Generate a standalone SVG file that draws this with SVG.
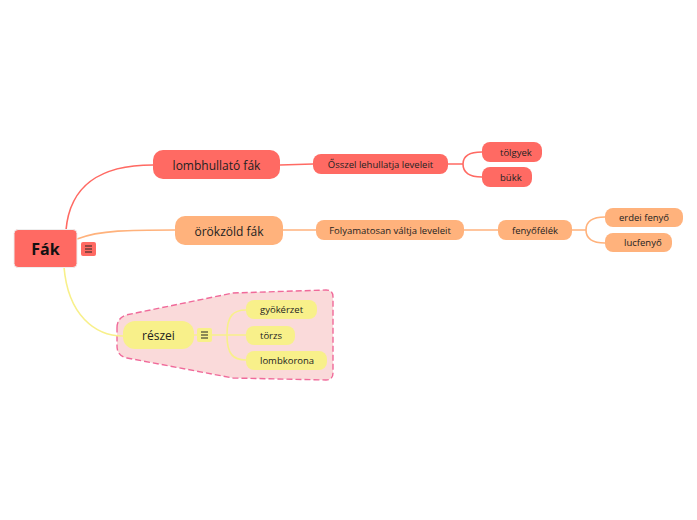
<svg xmlns="http://www.w3.org/2000/svg" width="697" height="520" viewBox="0 0 697 520">
<style>
text{font-family:"Open Sans","Noto Sans","DejaVu Sans",sans-serif;fill:#222;text-anchor:middle;dominant-baseline:central}
.red{fill:#ff6a63}
.org{fill:#ffb27c}
.yel{fill:#f8f08a}
.c{fill:none;stroke-width:1.6}
.cr{stroke:#ff6a63}
.co{stroke:#ffb27c}
.cy{stroke:#f8f08a}
.s12{font-size:12px}
.s9{font-size:9.5px}
</style>
<rect width="697" height="520" fill="#fff"/>
<g id="boundary">
<path d="M117,328 Q117,318 126,315 L233,293 L326,290 Q333,290 333,297 L333,373 Q333,380 326,380 L233,378 L127,358 Q117,356 117,346 Z" fill="#fadada" stroke="#f06a9a" stroke-width="1.4" stroke-dasharray="6,3"/>
</g>
<g id="connectors">
<path class="c cr" d="M66,230 C70,185 100,165 153,165"/>
<path class="c co" d="M77,239 C100,230 130,230 175,230"/>
<path class="c cy" d="M64,267 C68,315 95,336 123,336"/>
<path class="c cr" d="M280,165 L313,164"/>
<path class="c cr" d="M448,164 L463,164 M463,164 C463,156 469,152 482,152 M463,164 C463,172 469,177 482,177"/>
<path class="c co" d="M283,230 L316,230"/>
<path class="c co" d="M464,230 L498,230"/>
<path class="c co" d="M572,230 L586,230 M586,230 C586,221 592,217 605,217 M586,230 C586,239 592,243 605,243"/>
<path class="c cy" d="M194,335 L197,335 M212,335 L227,335 M227,335 C227,316 233,310 246,310 M227,335 L246,335 M227,335 C227,354 233,360 246,360"/>
</g>
<g id="root">
<rect x="14" y="229.5" width="63" height="38" rx="4" class="red" stroke="#eee" stroke-width="1"/>
<text x="45.5" y="249" style="font-size:16px;font-weight:bold;fill:#111">Fák</text>
</g>
<g id="root-menu">
<rect x="81" y="242" width="15" height="14" rx="2" class="red"/>
<path d="M85,246 H92 M85,249 H92 M85,252 H92" stroke="#222" stroke-width="1"/>
</g>
<g id="lombhullato">
<rect x="153" y="150" width="127" height="29" rx="10" class="red"/>
<text x="216.5" y="165" class="s12">lombhullató fák</text>
</g>
<g id="osszel">
<rect x="313" y="154" width="135" height="20" rx="8" class="red"/>
<text x="380.5" y="164" class="s9">Ősszel lehullatja leveleit</text>
</g>
<g id="tolgyek">
<rect x="482" y="142" width="60" height="20" rx="8" class="red"/>
<text x="500" y="152" class="s9" style="text-anchor:start">tölgyek</text>
</g>
<g id="bukk">
<rect x="482" y="167" width="50" height="20" rx="8" class="red"/>
<text x="500" y="177" class="s9" style="text-anchor:start">bükk</text>
</g>
<g id="orokzold">
<rect x="175" y="216" width="108" height="29" rx="10" class="org"/>
<text x="229" y="231" class="s12">örökzöld fák</text>
</g>
<g id="folyamatosan">
<rect x="316" y="220" width="148" height="20" rx="8" class="org"/>
<text x="390" y="230" class="s9">Folyamatosan váltja leveleit</text>
</g>
<g id="fenyofelek">
<rect x="498" y="220" width="74" height="20" rx="8" class="org"/>
<text x="535" y="230" class="s9">fenyőfélék</text>
</g>
<g id="erdei">
<rect x="605" y="208" width="78" height="19" rx="8" class="org"/>
<text x="644" y="217.5" class="s9">erdei fenyő</text>
</g>
<g id="lucfenyo">
<rect x="605" y="233" width="67" height="19" rx="8" class="org"/>
<text x="624" y="242.5" class="s9" style="text-anchor:start">lucfenyő</text>
</g>
<g id="reszei">
<rect x="123" y="321" width="71" height="28" rx="12" class="yel"/>
<text x="158.5" y="335.5" class="s12">részei</text>
</g>
<g id="reszei-menu">
<rect x="197" y="328" width="15" height="14" rx="2" class="yel"/>
<path d="M201,332 H208 M201,335 H208 M201,338 H208" stroke="#222" stroke-width="1"/>
</g>
<g id="gyokerzet">
<rect x="246" y="300" width="71" height="19" rx="8" class="yel"/>
<text x="260" y="309.5" class="s9" style="text-anchor:start">gyökérzet</text>
</g>
<g id="torzs">
<rect x="246" y="326" width="49" height="19" rx="8" class="yel"/>
<text x="260" y="335.5" class="s9" style="text-anchor:start">törzs</text>
</g>
<g id="lombkorona">
<rect x="246" y="351" width="81" height="19" rx="8" class="yel"/>
<text x="260" y="360.5" class="s9" style="text-anchor:start">lombkorona</text>
</g>
</svg>
